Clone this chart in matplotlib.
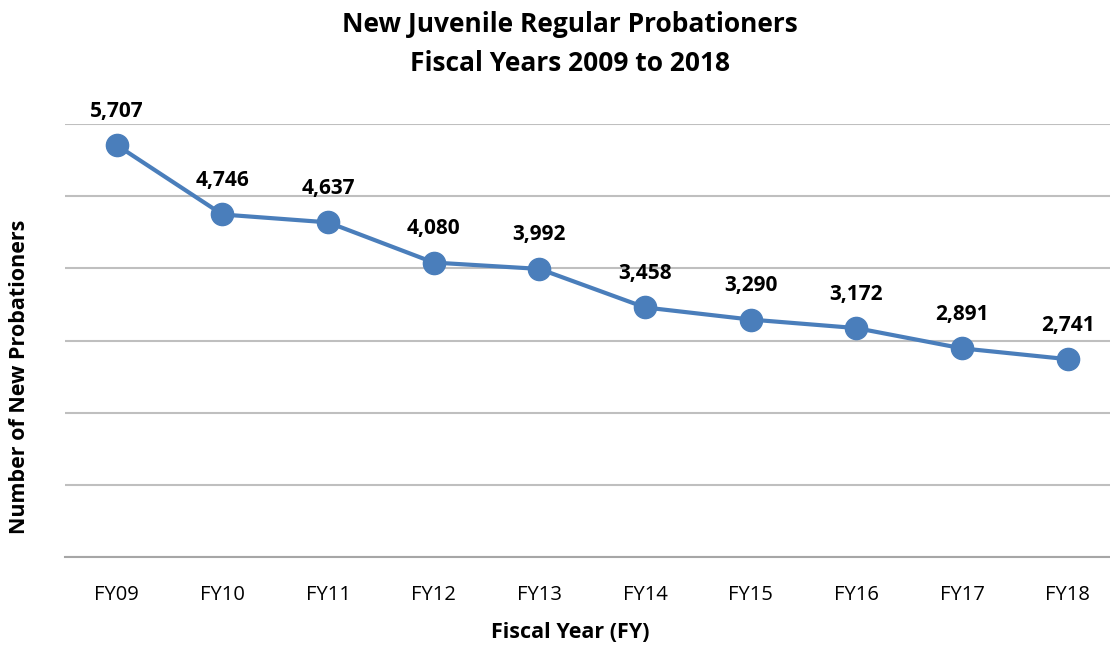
import matplotlib.pyplot as plt

# Dados do gráfico
anos = ["FY09", "FY10", "FY11", "FY12", "FY13", "FY14", "FY15", "FY16", "FY17", "FY18"]
probationers = [5707, 4746, 4637, 4080, 3992, 3458, 3290, 3172, 2891, 2741]

plt.rcParams["font.family"] = ["Open Sans", "DejaVu Sans"]

fig = plt.figure(figsize=(11.1, 6.45), dpi=100)
ax = fig.add_axes([65 / 1110, 88 / 645, 1045 / 1110, 433 / 645])

x = list(range(len(anos)))
ax.plot(x, probationers, color="#4a7ebb", linewidth=3, marker="o",
        markersize=16, markerfacecolor="#4a7ebb", markeredgecolor="#4a7ebb",
        zorder=3, clip_on=False)

for xi, v in zip(x, probationers):
    ax.annotate(f"{v:,}", (xi, v), xytext=(0, 24.5), textcoords="offset points",
                ha="center", va="center", fontsize=15, fontweight="bold",
                annotation_clip=False)

ax.set_xlim(-0.49, 9.40)
ax.set_ylim(0, 6000)
ax.set_yticks(range(0, 6001, 1000))
ax.set_yticklabels([])
ax.tick_params(axis="y", length=0)
ax.tick_params(axis="x", length=0, labelsize=14.5, pad=20)
ax.set_xticks(x)
ax.set_xticklabels(anos)
ax.grid(axis="y", color="#bfbfbf", linewidth=1.5)
ax.set_axisbelow(True)
for s in ["top", "right", "left"]:
    ax.spines[s].set_visible(False)
ax.spines["bottom"].set_color("#a6a6a6")
ax.spines["bottom"].set_linewidth(1.5)

fig.text(570 / 1110, 1 - 44 / 645, "New Juvenile Regular Probationers\nFiscal Years 2009 to 2018",
         ha="center", va="center", fontsize=19, fontweight="bold", linespacing=1.6)
fig.text(570 / 1110, 1 - 632 / 645, "Fiscal Year (FY)", ha="center", va="center",
         fontsize=15.5, fontweight="bold")
fig.text(20 / 1110, 1 - 377 / 645, "Number of New Probationers", ha="center", va="center",
         rotation=90, fontsize=15.5, fontweight="bold")

plt.savefig("out.png", dpi=100)
